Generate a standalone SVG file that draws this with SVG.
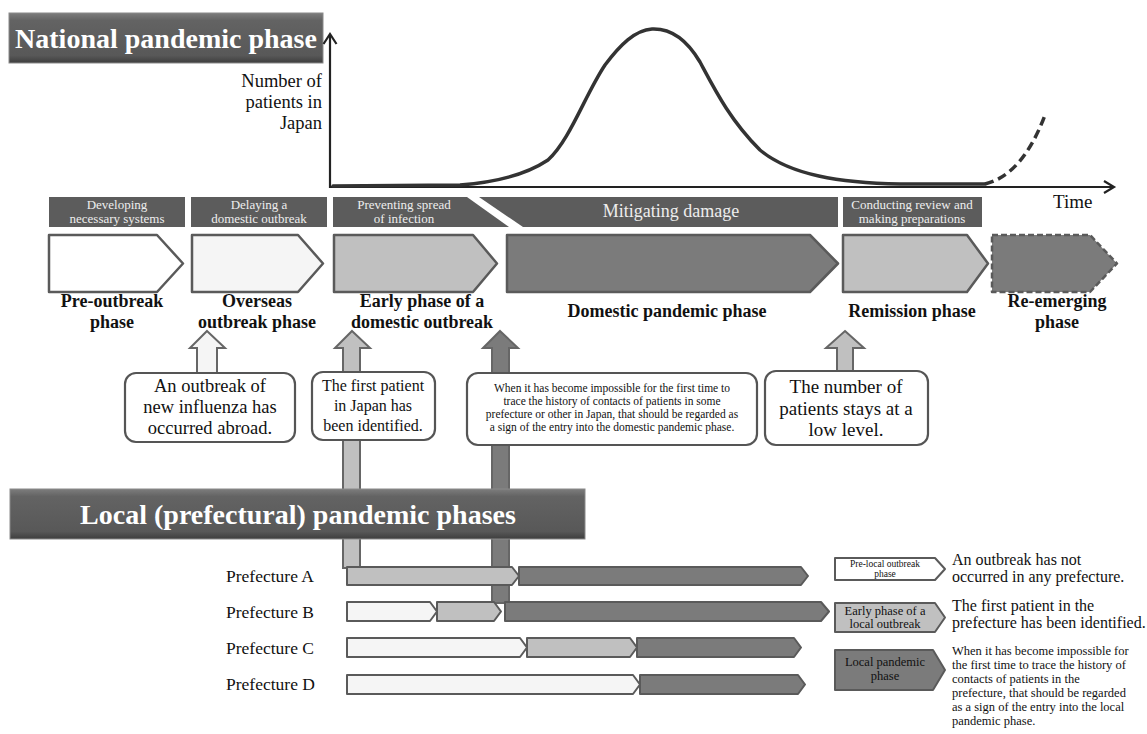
<svg xmlns="http://www.w3.org/2000/svg" width="1147" height="734" viewBox="0 0 1147 734" font-family="'Liberation Serif', 'Times New Roman', Times, serif">
<style>
  text{font-family:"Liberation Serif","Times New Roman",Times,serif;}
  .banner-t{font-weight:bold;fill:#fff;}
  .hdr{fill:#5c5c5c;}
  .hdr-t{font-size:13px;fill:#eeeeee;text-anchor:middle;}
  .pent{stroke:#5a5a5a;stroke-width:2.5;stroke-linejoin:round;}
  .seg{stroke:#5a5a5a;stroke-width:2;stroke-linejoin:round;}
  .white{fill:#ffffff;}
  .vlight{fill:#f5f5f5;}
  .light{fill:#c0c0c0;}
  .dark{fill:#7b7b7b;}
  .plabel{font-weight:bold;font-size:18px;fill:#111;text-anchor:middle;}
  .callout{fill:#fff;stroke:#555;stroke-width:2.2;}
  .ct{fill:#111;text-anchor:middle;}
  .barr{stroke:#666;stroke-width:2;stroke-linejoin:miter;}
  .pref{font-size:17.5px;fill:#111;}
  .leg{fill:#111;}
  .axis{stroke:#222;stroke-width:2.2;fill:none;}
</style>
<defs>
  <linearGradient id="bev" x1="0" y1="0" x2="0" y2="1">
    <stop offset="0" stop-color="#7d7d7d"/>
    <stop offset="0.15" stop-color="#636363"/>
    <stop offset="0.85" stop-color="#585858"/>
    <stop offset="1" stop-color="#3e3e3e"/>
  </linearGradient>
</defs>
<rect width="1147" height="734" fill="#fff"/>

<g id="connectors">
  <polygon class="barr vlight" points="207,331 225,348 217,348 217,374 197,374 197,348 190,348"/>
  <polygon class="barr light" points="352,331 370,348 360,348 360,568 343,568 343,348 335,348"/>
  <polygon class="barr dark" points="500,331 518,348 509,348 509,603 492,603 492,348 483,348"/>
  <polygon class="barr light" points="845,331 864,348 853,348 853,371 837,371 837,348 826,348"/>
</g>

<g id="title-national">
  <rect x="9" y="13" width="314" height="50" fill="url(#bev)" stroke="#8a8a8a" stroke-width="1"/>
  <text class="banner-t" x="166" y="48" font-size="28" text-anchor="middle">National pandemic phase</text>
</g>

<g id="chart">
  <text font-size="18.5" text-anchor="end" fill="#111"><tspan x="322" y="87">Number of</tspan><tspan x="322" y="108">patients in</tspan><tspan x="322" y="129">Japan</tspan></text>
  <line class="axis" x1="330" y1="188" x2="330" y2="35"/>
  <polyline class="axis" points="323.5,44 330,34 336.5,44"/>
  <line class="axis" x1="330" y1="187" x2="1113" y2="187"/>
  <polyline class="axis" points="1104,181 1114,187 1104,193"/>
  <path d="M333,186 L460,185 C500,182 530,172 548,160 C570,140 585,95 605,65 C620,45 635,30 652,29 C675,28 690,45 700,62 C715,90 730,120 760,150 C790,175 840,183 900,184 L985,184" fill="none" stroke="#333" stroke-width="3.5" stroke-linecap="round"/>
  <path d="M985,184 C1010,178 1030,155 1045,115" fill="none" stroke="#333" stroke-width="3.5" stroke-dasharray="9,5"/>
  <text x="1053" y="208" font-size="19" fill="#111">Time</text>
</g>

<g id="headers">
  <rect class="hdr" x="49" y="197" width="136" height="30"/>
  <text class="hdr-t"><tspan x="117" y="209">Developing</tspan><tspan x="117" y="223">necessary systems</tspan></text>
  <rect class="hdr" x="191" y="197" width="136" height="30"/>
  <text class="hdr-t"><tspan x="259" y="209">Delaying a</tspan><tspan x="259" y="223">domestic outbreak</tspan></text>
  <polygon class="hdr" points="333,197 467,197 509,227 333,227"/>
  <text class="hdr-t"><tspan x="404" y="209">Preventing spread</tspan><tspan x="404" y="223">of infection</tspan></text>
  <polygon class="hdr" points="479,197 838,197 838,227 523,227"/>
  <text class="hdr-t" x="671" y="217" font-size="18" style="font-size:18px">Mitigating damage</text>
  <rect class="hdr" x="843" y="197" width="139" height="30"/>
  <text class="hdr-t"><tspan x="912" y="209">Conducting review and</tspan><tspan x="912" y="223">making preparations</tspan></text>
</g>

<g id="phase-pre-outbreak">
  <path class="pent white" d="M49,235 H157 L183,263.5 L157,292 H49 Z"/>
  <text class="plabel"><tspan x="112" y="307">Pre-outbreak</tspan><tspan x="112" y="328">phase</tspan></text>
</g>
<g id="phase-overseas">
  <path class="pent vlight" d="M192,235 H298 L323,263.5 L298,292 H192 Z"/>
  <text class="plabel"><tspan x="257" y="307">Overseas</tspan><tspan x="257" y="328">outbreak phase</tspan></text>
</g>
<g id="phase-early">
  <path class="pent light" d="M334,235 H473 L497,263.5 L473,292 H334 Z"/>
  <text class="plabel"><tspan x="422" y="307">Early phase of a</tspan><tspan x="422" y="328">domestic outbreak</tspan></text>
</g>
<g id="phase-domestic">
  <path class="pent dark" d="M507,235 H810 L838,263.5 L810,292 H507 Z"/>
  <text class="plabel" x="667" y="317">Domestic pandemic phase</text>
</g>
<g id="phase-remission">
  <path class="pent light" d="M843,235 H967 L988,263.5 L967,292 H843 Z"/>
  <text class="plabel" x="912" y="317">Remission phase</text>
</g>
<g id="phase-reemerging">
  <path class="pent dark" d="M992,235 H1090 L1117,263.5 L1090,292 H992 Z" stroke-dasharray="6,3"/>
  <text class="plabel"><tspan x="1057" y="307">Re-emerging</tspan><tspan x="1057" y="328">phase</tspan></text>
</g>

<g id="callout-abroad">
  <rect class="callout" x="125" y="373" width="170" height="69" rx="11"/>
  <text class="ct" font-size="18.5"><tspan x="210" y="392">An outbreak of</tspan><tspan x="210" y="413">new influenza has</tspan><tspan x="210" y="434">occurred abroad.</tspan></text>
</g>
<g id="callout-first-patient">
  <rect class="callout" x="312" y="372" width="123" height="68" rx="11"/>
  <text class="ct" font-size="16"><tspan x="373" y="391">The first patient</tspan><tspan x="373" y="411">in Japan has</tspan><tspan x="373" y="431">been identified.</tspan></text>
</g>
<g id="callout-trace">
  <rect class="callout" x="467" y="373" width="290" height="72" rx="11"/>
  <text class="ct" font-size="11.5"><tspan x="612" y="392">When it has become impossible for the first time to</tspan><tspan x="612" y="405">trace the history of contacts of patients in some</tspan><tspan x="612" y="418">prefecture or other in Japan, that should be regarded as</tspan><tspan x="612" y="431">a sign of the entry into the domestic pandemic phase.</tspan></text>
</g>
<g id="callout-low">
  <rect class="callout" x="765" y="371" width="163" height="74" rx="11"/>
  <text class="ct" font-size="19"><tspan x="846" y="393">The number of</tspan><tspan x="846" y="415">patients stays at a</tspan><tspan x="846" y="436">low level.</tspan></text>
</g>

<g id="title-local">
  <rect x="10" y="489" width="575" height="50" fill="url(#bev)" stroke="#8a8a8a" stroke-width="1"/>
  <text class="banner-t" x="298" y="524" font-size="28" text-anchor="middle">Local (prefectural) pandemic phases</text>
</g>

<g id="prefecture-a">
  <text class="pref" x="226" y="582">Prefecture A</text>
  <path class="seg light" d="M347,567 H512 L519,576 L512,585 H347 Z"/>
  <path class="seg dark" d="M519,567 H801 L808,576 L801,585 H519 Z"/>
</g>
<g id="prefecture-b">
  <text class="pref" x="226" y="618">Prefecture B</text>
  <path class="seg vlight" d="M347,602 H430 L437,611.5 L430,621 H347 Z"/>
  <path class="seg light" d="M437,602 H494 L501,611.5 L494,621 H437 Z"/>
  <path class="seg dark" d="M505,602 H821 L829,611.5 L821,621 H505 Z"/>
</g>
<g id="prefecture-c">
  <text class="pref" x="226" y="654">Prefecture C</text>
  <path class="seg vlight" d="M347,638 H520 L527,647.5 L520,657 H347 Z"/>
  <path class="seg light" d="M527,638 H630 L637,647.5 L630,657 H527 Z"/>
  <path class="seg dark" d="M637,638 H794 L801,647.5 L794,657 H637 Z"/>
</g>
<g id="prefecture-d">
  <text class="pref" x="226" y="690">Prefecture D</text>
  <path class="seg vlight" d="M347,675 H633 L640,684.5 L633,694 H347 Z"/>
  <path class="seg dark" d="M640,675 H798 L805,684.5 L798,694 H640 Z"/>
</g>

<g id="legend-pre-local">
  <path class="seg white" d="M835,558 H935 L945,569 L935,580 H835 Z"/>
  <text class="ct" font-size="9.5"><tspan x="885" y="567">Pre-local outbreak</tspan><tspan x="885" y="577">phase</tspan></text>
  <text class="leg" font-size="16"><tspan x="952" y="565">An outbreak has not</tspan><tspan x="952" y="582">occurred in any prefecture.</tspan></text>
</g>
<g id="legend-early-local">
  <path class="seg light" d="M835,603 H935 L945,617.5 L935,632 H835 Z"/>
  <text class="ct" font-size="12.5"><tspan x="885" y="615">Early phase of a</tspan><tspan x="885" y="628">local outbreak</tspan></text>
  <text class="leg" font-size="16"><tspan x="952" y="611">The first patient in the</tspan><tspan x="952" y="628">prefecture has been identified.</tspan></text>
</g>
<g id="legend-local-pandemic">
  <path class="seg dark" d="M835,650 H933 L945,670 L933,690 H835 Z"/>
  <text class="ct" font-size="12.5"><tspan x="885" y="666">Local pandemic</tspan><tspan x="885" y="680">phase</tspan></text>
  <text class="leg" font-size="12.5"><tspan x="952" y="655">When it has become impossible for</tspan><tspan x="952" y="669">the first time to trace the history of</tspan><tspan x="952" y="683">contacts of patients in the</tspan><tspan x="952" y="697">prefecture, that should be regarded</tspan><tspan x="952" y="711">as a sign of the entry into the local</tspan><tspan x="952" y="725">pandemic phase.</tspan></text>
</g>
</svg>
